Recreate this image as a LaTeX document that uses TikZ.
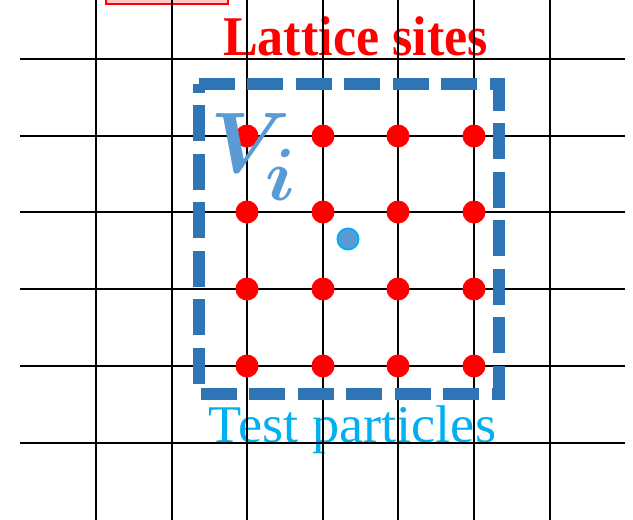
\documentclass[tikz,border=0pt]{standalone}
\usepackage{bm}
\usepackage{fontspec}
\setmainfont{Liberation Serif}
\definecolor{boxblue}{HTML}{2E75B6}
\definecolor{vicolor}{HTML}{5B9BD5}
\definecolor{tpcyan}{HTML}{00B0F0}
\definecolor{pinkfill}{HTML}{FFC9C9}
\tikzset{
  gridline/.style={line width=2.5pt, black},
  site/.style={circle, fill=red, inner sep=0pt, minimum size=23pt},
  particle/.style={circle, fill=vicolor, draw=tpcyan, line width=2pt, inner sep=0pt, minimum size=21pt},
  volbox/.style={draw=boxblue, line width=12pt, dash pattern=on 36pt off 12.5pt, line join=miter},
  lbl/.style={inner sep=0pt, anchor=base},
  vlbl/.style={inner sep=0pt, anchor=base west, text=vicolor}
}
\begin{document}
\begin{tikzpicture}[x=1pt,y=-1pt]
\useasboundingbox (0,0) rectangle (633,520);
\clip (0,0) rectangle (633,520);
% partial red box at top
\draw[red, line width=1.5pt, fill=pinkfill] (106,-10) rectangle (228,4);
% labels
\node[lbl, text=red] (lattice) at (355.5,55) {\scalebox{0.93}[1]{\fontsize{56}{60}\selectfont\bfseries Lattice sites}};
\node[lbl, text=tpcyan] (test) at (352.5,442) {\scalebox{1.025}[1]{\fontsize{53}{58}\selectfont Test particles}};
% grid
\foreach \x in {96,172,247,323,398,474,550}
  \draw[gridline] (\x,-5) -- (\x,525);
\foreach \y in {59,136,212,289,366,443}
  \draw[gridline] (20,\y) -- (625,\y);
% volume box
\draw[volbox] (198.5,84) -- (499,84) -- (499,394) -- (198.5,394) -- cycle;
% lattice sites
\foreach \x [count=\i] in {247,323,398,474}
  \foreach \y [count=\j] in {136,212,289,366}
    \node[site] (s-\i-\j) at (\x,\y) {};
% test particle
\node[particle] (p) at (348,239) {};
% V_i
\node[vlbl] (V) at (210,172) {\scalebox{8.6}{$\bm{V}$}};
\node[vlbl] (I) at (265,200) {\scalebox{7.4}{$\bm{i}$}};
\end{tikzpicture}
\end{document}
